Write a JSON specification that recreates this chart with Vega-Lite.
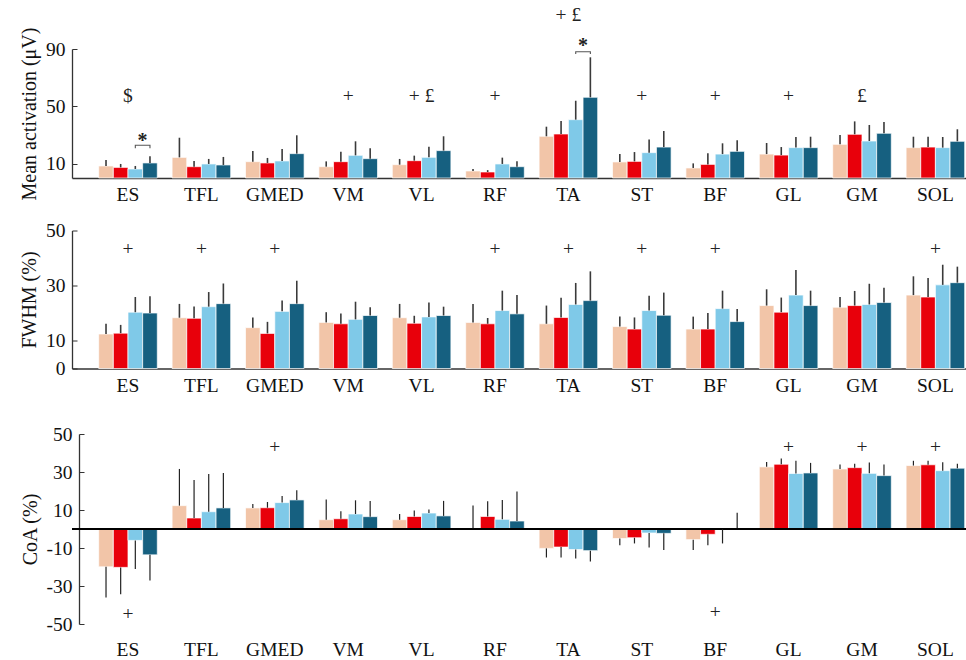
{
  "$schema": "https://vega.github.io/schema/vega-lite/v6.json",
  "padding": {"left": 19, "top": 5, "right": 0, "bottom": 0},
  "config": {
    "font": "Liberation Serif",
    "view": {"stroke": null},
    "axis": {"labelFont": "Liberation Serif", "titleFont": "Liberation Serif", "labelFontSize": 19.5, "titleFontSize": 20, "titleFontWeight": "normal", "labelColor": "#111", "titleColor": "#111", "domainColor": "#333", "tickColor": "#333", "grid": false, "domainWidth": 1.3, "labelOverlap": false},
    "text": {"font": "Liberation Serif", "fontSize": 19.5, "color": "#222"}
  },
  "datasets": {
    "d": [
      {"m":"ES","c":"c1","ma":8.4,"mae":12.6,"fw":12.5,"fwe":16.2,"co":-19.9,"coe":-36.1},
      {"m":"ES","c":"c2","ma":7.4,"mae":9.8,"fw":12.8,"fwe":15.8,"co":-20.2,"coe":-34.3},
      {"m":"ES","c":"c3","ma":6.3,"mae":8.4,"fw":20.4,"fwe":25.9,"co":-6.0,"coe":-21.1},
      {"m":"ES","c":"c4","ma":10.5,"mae":15.1,"fw":20.1,"fwe":26.2,"co":-13.6,"coe":-27.1},
      {"m":"TFL","c":"c1","ma":14.4,"mae":28.1,"fw":18.4,"fwe":23.4,"co":12.3,"coe":31.6},
      {"m":"TFL","c":"c2","ma":7.9,"mae":11.9,"fw":18.2,"fwe":22.5,"co":5.8,"coe":25.8},
      {"m":"TFL","c":"c3","ma":9.8,"mae":13.3,"fw":22.4,"fwe":27.7,"co":9.1,"coe":29.0},
      {"m":"TFL","c":"c4","ma":9.1,"mae":14.7,"fw":23.5,"fwe":30.8,"co":11.1,"coe":29.5},
      {"m":"GMED","c":"c1","ma":11.4,"mae":18.8,"fw":14.8,"fwe":18.5,"co":11.1,"coe":13.2},
      {"m":"GMED","c":"c2","ma":10.5,"mae":14.0,"fw":12.7,"fwe":16.9,"co":11.2,"coe":14.2},
      {"m":"GMED","c":"c3","ma":11.9,"mae":20.2,"fw":20.7,"fwe":24.6,"co":13.9,"coe":17.4},
      {"m":"GMED","c":"c4","ma":17.0,"mae":29.8,"fw":23.5,"fwe":31.8,"co":15.3,"coe":20.4},
      {"m":"VM","c":"c1","ma":7.9,"mae":11.6,"fw":16.7,"fwe":20.4,"co":4.9,"coe":15.5},
      {"m":"VM","c":"c2","ma":11.4,"mae":18.4,"fw":16.2,"fwe":19.9,"co":5.4,"coe":9.3},
      {"m":"VM","c":"c3","ma":15.8,"mae":25.6,"fw":17.8,"fwe":24.2,"co":7.9,"coe":15.1},
      {"m":"VM","c":"c4","ma":13.5,"mae":20.7,"fw":19.2,"fwe":22.2,"co":6.5,"coe":14.8},
      {"m":"VL","c":"c1","ma":9.3,"mae":13.3,"fw":18.4,"fwe":23.4,"co":4.9,"coe":7.9},
      {"m":"VL","c":"c2","ma":12.1,"mae":15.6,"fw":16.4,"fwe":19.1,"co":6.6,"coe":9.7},
      {"m":"VL","c":"c3","ma":14.4,"mae":21.8,"fw":18.7,"fwe":23.9,"co":8.4,"coe":10.2},
      {"m":"VL","c":"c4","ma":19.1,"mae":29.1,"fw":19.2,"fwe":22.4,"co":6.9,"coe":14.8},
      {"m":"RF","c":"c1","ma":4.9,"mae":6.3,"fw":16.7,"fwe":23.4,"co":0.4,"coe":12.4},
      {"m":"RF","c":"c2","ma":4.2,"mae":5.5,"fw":16.2,"fwe":18.3,"co":6.6,"coe":14.6},
      {"m":"RF","c":"c3","ma":9.8,"mae":14.2,"fw":21.0,"fwe":28.2,"co":5.1,"coe":15.3},
      {"m":"RF","c":"c4","ma":7.9,"mae":11.6,"fw":19.8,"fwe":26.6,"co":4.2,"coe":19.7},
      {"m":"TA","c":"c1","ma":29.1,"mae":35.8,"fw":16.2,"fwe":22.8,"co":-10.2,"coe":-15.0},
      {"m":"TA","c":"c2","ma":30.7,"mae":39.8,"fw":18.5,"fwe":25.6,"co":-9.5,"coe":-15.0},
      {"m":"TA","c":"c3","ma":40.7,"mae":53.9,"fw":23.2,"fwe":31.0,"co":-10.8,"coe":-15.5},
      {"m":"TA","c":"c4","ma":56.3,"mae":84.2,"fw":24.6,"fwe":35.2,"co":-11.4,"coe":-17.1},
      {"m":"ST","c":"c1","ma":11.2,"mae":16.7,"fw":15.2,"fwe":18.8,"co":-5.0,"coe":-8.6},
      {"m":"ST","c":"c2","ma":11.6,"mae":18.1,"fw":14.3,"fwe":18.5,"co":-4.6,"coe":-7.6},
      {"m":"ST","c":"c3","ma":17.7,"mae":26.8,"fw":21.0,"fwe":26.4,"co":-2.1,"coe":-9.7},
      {"m":"ST","c":"c4","ma":21.6,"mae":32.8,"fw":19.3,"fwe":27.5,"co":-2.3,"coe":-11.1},
      {"m":"BF","c":"c1","ma":7.0,"mae":10.2,"fw":14.3,"fwe":18.8,"co":-5.6,"coe":-11.1},
      {"m":"BF","c":"c2","ma":9.5,"mae":17.2,"fw":14.3,"fwe":20.1,"co":-2.8,"coe":-8.6},
      {"m":"BF","c":"c3","ma":16.7,"mae":24.2,"fw":21.7,"fwe":28.2,"co":-0.2,"coe":-7.6},
      {"m":"BF","c":"c4","ma":18.6,"mae":26.3,"fw":17.0,"fwe":21.6,"co":0.5,"coe":8.6},
      {"m":"GL","c":"c1","ma":16.7,"mae":24.4,"fw":22.8,"fwe":28.7,"co":32.7,"coe":35.3},
      {"m":"GL","c":"c2","ma":16.0,"mae":21.6,"fw":20.4,"fwe":25.7,"co":34.1,"coe":37.1},
      {"m":"GL","c":"c3","ma":21.2,"mae":28.6,"fw":26.6,"fwe":35.7,"co":29.2,"coe":35.9},
      {"m":"GL","c":"c4","ma":21.2,"mae":28.8,"fw":22.8,"fwe":28.2,"co":29.5,"coe":34.8},
      {"m":"GM","c":"c1","ma":23.5,"mae":30.0,"fw":22.2,"fwe":25.9,"co":31.6,"coe":33.9},
      {"m":"GM","c":"c2","ma":30.5,"mae":39.5,"fw":22.8,"fwe":28.1,"co":32.3,"coe":34.4},
      {"m":"GM","c":"c3","ma":25.8,"mae":37.0,"fw":23.2,"fwe":30.7,"co":29.3,"coe":35.0},
      {"m":"GM","c":"c4","ma":31.2,"mae":39.1,"fw":23.9,"fwe":29.3,"co":28.1,"coe":33.9},
      {"m":"SOL","c":"c1","ma":21.2,"mae":28.8,"fw":26.6,"fwe":33.4,"co":33.4,"coe":35.9},
      {"m":"SOL","c":"c2","ma":21.6,"mae":28.8,"fw":25.9,"fwe":32.8,"co":33.8,"coe":35.9},
      {"m":"SOL","c":"c3","ma":21.2,"mae":28.6,"fw":30.3,"fwe":37.6,"co":30.7,"coe":35.1},
      {"m":"SOL","c":"c4","ma":25.6,"mae":34.0,"fw":31.1,"fwe":36.9,"co":32.0,"coe":34.4}
    ],
    "a1": [
      {"m":"ES","t":"$","v":57},
      {"m":"VM","t":"+","v":57},
      {"m":"VL","t":"+ £","v":57},
      {"m":"RF","t":"+","v":57},
      {"m":"TA","t":"+ £","v":113.7},
      {"m":"ST","t":"+","v":57},
      {"m":"BF","t":"+","v":57},
      {"m":"GL","t":"+","v":57},
      {"m":"GM","t":"£","v":57}
    ],
    "b1": [
      {"m":"ES","g":"c3","v":20.7,"o":1},
      {"m":"ES","g":"c3","v":22.8,"o":2},
      {"m":"ES","g":"c4","v":22.8,"o":3},
      {"m":"ES","g":"c4","v":20.7,"o":4},
      {"m":"TA","g":"c3","v":86.5,"o":1},
      {"m":"TA","g":"c3","v":88.1,"o":2},
      {"m":"TA","g":"c4","v":88.1,"o":3},
      {"m":"TA","g":"c4","v":86.5,"o":4}
    ],
    "s1": [
      {"m":"ES","g":"c3","t":"*","v":26},
      {"m":"TA","g":"c3","t":"*","v":92}
    ],
    "a2": [
      {"m":"ES","t":"+","v":43.4},
      {"m":"TFL","t":"+","v":43.4},
      {"m":"GMED","t":"+","v":43.4},
      {"m":"RF","t":"+","v":43.4},
      {"m":"TA","t":"+","v":43.4},
      {"m":"ST","t":"+","v":43.4},
      {"m":"BF","t":"+","v":43.4},
      {"m":"SOL","t":"+","v":43.4}
    ],
    "a3": [
      {"m":"ES","t":"+","v":-44.5},
      {"m":"GMED","t":"+","v":43.4},
      {"m":"BF","t":"+","v":-43.5},
      {"m":"GL","t":"+","v":43.4},
      {"m":"GM","t":"+","v":43.4},
      {"m":"SOL","t":"+","v":43.4}
    ]
  },
  "align": "none",
  "bounds": "full",
  "spacing": 29,
  "vconcat": [
    {
      "align": "none",
      "bounds": "full",
      "spacing": 16.5,
      "vconcat": [
        {
          "width": 896,
          "height": 129,
          "layer": [
            {
              "data": {"name": "d"},
              "mark": {"type": "bar", "stroke": "#ffffff", "strokeWidth": 0.7},
              "encoding": {
                "x": {"field": "m", "type": "nominal", "scale": {"domain": ["ES","TFL","GMED","VM","VL","RF","TA","ST","BF","GL","GM","SOL"], "paddingInner": 0.2016, "paddingOuter": 0.2043, "align": 0.89}, "axis": {"title": null, "labelAngle": 0, "tickSize": -4, "labelPadding": 11.5}},
                "xOffset": {"field": "c", "type": "nominal", "scale": {"domain": ["c1","c2","c3","c4"], "paddingInner": 0, "paddingOuter": 0}},
                "y": {"field": "ma", "type": "quantitative", "scale": {"domain": [0, 90], "nice": false}, "axis": {"title": "Mean activation (μV)", "values": [10, 50, 90], "tickSize": -5, "labelPadding": 12, "titlePadding": 6, "labelOverlap": false}},
                "color": {"field": "c", "type": "nominal", "scale": {"domain": ["c1","c2","c3","c4"], "range": ["#F2C5A8","#E8000B","#7FC9E8","#166080"]}, "legend": null}
              }
            },
            {
              "data": {"name": "d"},
              "mark": {"type": "rule", "color": "#3a3a3a", "strokeWidth": 1.6},
              "encoding": {
                "x": {"field": "m", "type": "nominal"},
                "xOffset": {"field": "c", "type": "nominal"},
                "y": {"field": "ma", "type": "quantitative", "scale": {"domain": [0, 90], "nice": false}},
                "y2": {"field": "mae"}
              }
            },
            {
              "data": {"name": "b1"},
              "mark": {"type": "line", "color": "#555555", "strokeWidth": 1.1},
              "encoding": {
                "x": {"field": "m", "type": "nominal"},
                "xOffset": {"field": "g", "type": "nominal"},
                "y": {"field": "v", "type": "quantitative", "scale": {"domain": [0, 90], "nice": false}},
                "detail": {"field": "m"},
                "order": {"field": "o"}
              }
            },
            {
              "data": {"name": "s1"},
              "mark": {"type": "text", "fontWeight": "bold", "fontSize": 20, "dx": 7.3},
              "encoding": {
                "x": {"field": "m", "type": "nominal"},
                "xOffset": {"field": "g", "type": "nominal"},
                "y": {"field": "v", "type": "quantitative", "scale": {"domain": [0, 90], "nice": false}},
                "text": {"field": "t"}
              }
            },
            {
              "data": {"name": "a1"},
              "mark": {"type": "text"},
              "encoding": {
                "x": {"field": "m", "type": "nominal"},
                "y": {"field": "v", "type": "quantitative", "scale": {"domain": [0, 90], "nice": false}},
                "text": {"field": "t"}
              }
            }
          ]
        },
        {
          "width": 896,
          "height": 138,
          "layer": [
            {
              "data": {"name": "d"},
              "mark": {"type": "bar", "stroke": "#ffffff", "strokeWidth": 0.7},
              "encoding": {
                "x": {"field": "m", "type": "nominal", "scale": {"domain": ["ES","TFL","GMED","VM","VL","RF","TA","ST","BF","GL","GM","SOL"], "paddingInner": 0.2016, "paddingOuter": 0.2043, "align": 0.89}, "axis": {"title": null, "labelAngle": 0, "tickSize": -4, "labelPadding": 11.5}},
                "xOffset": {"field": "c", "type": "nominal", "scale": {"domain": ["c1","c2","c3","c4"], "paddingInner": 0, "paddingOuter": 0}},
                "y": {"field": "fw", "type": "quantitative", "scale": {"domain": [0, 50], "nice": false}, "axis": {"title": "FWHM (%)", "values": [0, 10, 30, 50], "tickSize": -5, "labelPadding": 12, "titlePadding": 6, "labelOverlap": false}},
                "color": {"field": "c", "type": "nominal", "scale": {"domain": ["c1","c2","c3","c4"], "range": ["#F2C5A8","#E8000B","#7FC9E8","#166080"]}, "legend": null}
              }
            },
            {
              "data": {"name": "d"},
              "mark": {"type": "rule", "color": "#3a3a3a", "strokeWidth": 1.6},
              "encoding": {
                "x": {"field": "m", "type": "nominal"},
                "xOffset": {"field": "c", "type": "nominal"},
                "y": {"field": "fw", "type": "quantitative", "scale": {"domain": [0, 50], "nice": false}},
                "y2": {"field": "fwe"}
              }
            },
            {
              "data": {"name": "a2"},
              "mark": {"type": "text"},
              "encoding": {
                "x": {"field": "m", "type": "nominal"},
                "y": {"field": "v", "type": "quantitative", "scale": {"domain": [0, 50], "nice": false}},
                "text": {"field": "t"}
              }
            }
          ]
        }
      ]
    },
    {
      "width": 896,
      "height": 190,
      "layer": [
        {
          "data": {"name": "d"},
          "mark": {"type": "bar", "stroke": "#ffffff", "strokeWidth": 0.7},
          "encoding": {
            "x": {"field": "m", "type": "nominal", "scale": {"domain": ["ES","TFL","GMED","VM","VL","RF","TA","ST","BF","GL","GM","SOL"], "paddingInner": 0.2016, "paddingOuter": 0.2043, "align": 0.89}, "axis": {"title": null, "labelAngle": 0, "domain": false, "ticks": false, "labelPadding": 16}},
            "xOffset": {"field": "c", "type": "nominal", "scale": {"domain": ["c1","c2","c3","c4"], "paddingInner": 0, "paddingOuter": 0}},
            "y": {"field": "co", "type": "quantitative", "scale": {"domain": [-50, 50], "nice": false}, "axis": {"title": "CoA (%)", "values": [-50, -30, -10, 10, 30, 50], "labelExpr": "'' + datum.value", "tickSize": -5, "labelPadding": 12, "titlePadding": 6, "labelOverlap": false, "offset": -7}},
            "color": {"field": "c", "type": "nominal", "scale": {"domain": ["c1","c2","c3","c4"], "range": ["#F2C5A8","#E8000B","#7FC9E8","#166080"]}, "legend": null}
          }
        },
        {
          "data": {"name": "d"},
          "mark": {"type": "rule", "color": "#000000", "strokeWidth": 1.4},
          "encoding": {"y": {"datum": 0, "type": "quantitative", "scale": {"domain": [-50, 50], "nice": false}, "axis": {"title": "CoA (%)", "values": [-50, -30, -10, 10, 30, 50], "labelExpr": "'' + datum.value", "tickSize": -5, "labelPadding": 12, "titlePadding": 6, "labelOverlap": false, "offset": -7}}}
        },
        {
          "data": {"name": "d"},
          "mark": {"type": "rule", "color": "#222222", "strokeWidth": 1.2},
          "encoding": {
            "x": {"field": "m", "type": "nominal"},
            "xOffset": {"field": "c", "type": "nominal"},
            "y": {"field": "co", "type": "quantitative", "scale": {"domain": [-50, 50], "nice": false}, "axis": {"title": "CoA (%)", "values": [-50, -30, -10, 10, 30, 50], "labelExpr": "'' + datum.value", "tickSize": -5, "labelPadding": 12, "titlePadding": 6, "labelOverlap": false, "offset": -7}},
            "y2": {"field": "coe"}
          }
        },
        {
          "data": {"name": "a3"},
          "mark": {"type": "text"},
          "encoding": {
            "x": {"field": "m", "type": "nominal"},
            "y": {"field": "v", "type": "quantitative", "scale": {"domain": [-50, 50], "nice": false}, "axis": {"title": "CoA (%)", "values": [-50, -30, -10, 10, 30, 50], "labelExpr": "'' + datum.value", "tickSize": -5, "labelPadding": 12, "titlePadding": 6, "labelOverlap": false, "offset": -7}},
            "text": {"field": "t"}
          }
        }
      ]
    }
  ]
}
